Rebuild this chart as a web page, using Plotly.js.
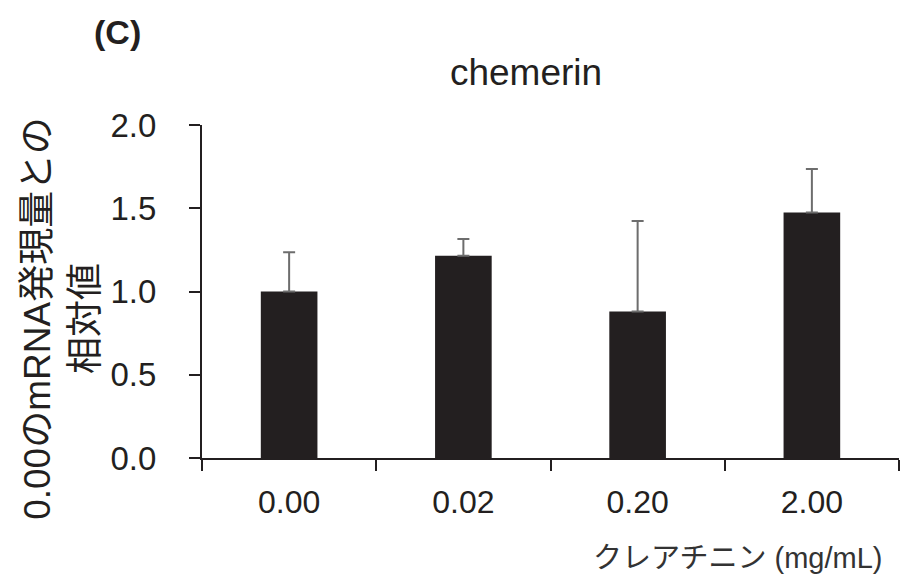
<!DOCTYPE html>
<html>
<head>
<meta charset="utf-8">
<script src="https://cdn.plot.ly/plotly-3.0.1.min.js"></script>
<style>html,body{margin:0;padding:0;background:#fff;}#chart{width:901px;height:577px;}</style>
</head>
<body>
<div id="chart"></div>
<script>
const categories = ["0.00", "0.02", "0.20", "2.00"];
const values = [1.00, 1.215, 0.88, 1.474];
const errorsPlus = [0.236, 0.10, 0.544, 0.262];
const errorsMinus = [0, 0, 0, 0];
const yTicks = [0, 0.5, 1.0, 1.5, 2.0];
const yTickLabels = ["0.0", "0.5", "1.0", "1.5", "2.0"];
const chartTitle = "chemerin";
const panelLabel = "(C)";
const xTitle = "クレアチニン (mg/mL)";
const yTitle = "0.00のmRNA発現量との<br>相対値";

const ink = "#231f20";

const trace = {
  type: "bar",
  x: categories,
  y: values,
  marker: {color: ink, line: {width: 0}},
  error_y: {type: "data", symmetric: false, array: errorsPlus, arrayminus: errorsMinus, color: "#6d6d6d", thickness: 2, width: 6},
  hoverinfo: "none"
};

const layout = {
  width: 901, height: 577,
  margin: {l: 202, r: 2, t: 125, b: 119, pad: 0},
  paper_bgcolor: "#fff", plot_bgcolor: "#fff",
  showlegend: false,
  bargap: 0.675,
  title: {text: chartTitle, x: 526/901, xanchor: "center", xref: "container", y: 1 - 72/577, yanchor: "middle", yref: "container",
          font: {family: "Liberation Sans, Arial, sans-serif", size: 37, color: ink}},
  xaxis: {
    type: "category", range: [-0.5, 3.5], fixedrange: true,
    showline: true, linecolor: ink, linewidth: 2,
    ticks: "outside", tickson: "boundaries", ticklen: 11, tickwidth: 2, tickcolor: ink,
    tickfont: {family: "Liberation Sans, Arial, sans-serif", size: 32, color: ink}, ticklabelstandoff: 15,
    showgrid: false, zeroline: false
  },
  yaxis: {
    range: [0, 2], fixedrange: true,
    tickvals: yTicks, ticktext: yTickLabels,
    showline: true, linecolor: ink, linewidth: 2,
    ticks: "outside", ticklen: 11, tickwidth: 2, tickcolor: ink,
    tickfont: {family: "Liberation Sans, Arial, sans-serif", size: 33, color: ink}, ticklabelstandoff: 26,
    showgrid: false, zeroline: false
  },
  annotations: [
    {text: panelLabel, xref: "paper", yref: "paper", x: (117-202)/697, y: (458.3-32)/333.3, xanchor: "center", yanchor: "middle", showarrow: false,
     font: {family: "Liberation Sans, Arial, sans-serif", size: 34, color: ink, weight: "bold"}},
    {text: xTitle, xref: "paper", yref: "paper", x: (884-202)/697, y: (458.3-558)/333.3, xanchor: "right", yanchor: "middle", showarrow: false,
     font: {family: "Liberation Sans, Arial, Noto Sans CJK JP, sans-serif", size: 29, color: "#333"}},
    {text: yTitle, xref: "paper", yref: "paper", x: (62-202)/697, y: (458.3-319)/333.3, xanchor: "center", yanchor: "middle", showarrow: false,
     textangle: -90, font: {family: "Liberation Sans, Arial, Noto Sans CJK JP, sans-serif", size: 37, color: ink}}
  ]
};

Plotly.newPlot("chart", [trace], layout, {displayModeBar: false, staticPlot: true});
</script>
</body>
</html>
